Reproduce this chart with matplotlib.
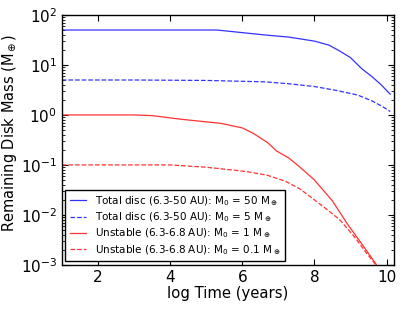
import matplotlib
matplotlib.use("Agg")
import matplotlib.pyplot as plt
import numpy as np

plt.rcParams["mathtext.default"] = "regular"
plt.rcParams["axes.unicode_minus"] = False

# Total disc, M0 = 50
t_tot50 = [1.0, 2.0, 4.0, 5.3, 6.6, 7.3, 8.0, 8.4, 8.7, 9.0, 9.32, 9.6, 9.85, 10.1]
m_tot50 = [50, 50, 50, 50, 40, 36, 30, 25, 19, 14, 8.3, 5.8, 4.0, 2.6]

# Total disc, M0 = 5
t_tot5 = [1.0, 3.0, 5.0, 6.6, 7.3, 8.0, 8.6, 9.2, 9.6, 9.9, 10.1]
m_tot5 = [5.0, 5.0, 4.9, 4.6, 4.2, 3.7, 3.1, 2.5, 1.9, 1.45, 1.17]

# Unstable, M0 = 1
t_un1 = [1.0, 2.0, 3.0, 3.5, 4.3, 5.4, 6.0, 6.3, 6.7, 6.95, 7.3, 7.6, 8.0, 8.5, 8.9, 9.3, 9.69, 9.8]
m_un1 = [1.0, 1.0, 1.0, 0.97, 0.82, 0.68, 0.55, 0.43, 0.28, 0.19, 0.136, 0.09, 0.05, 0.019, 0.0068, 0.0027, 0.00108, 0.0008]

# Unstable, M0 = 0.1
t_un01 = [1.0, 2.0, 4.0, 5.0, 6.1, 6.7, 7.2, 7.6, 8.0, 8.4, 8.7, 9.1, 9.45, 9.75]
m_un01 = [0.1, 0.1, 0.1, 0.09, 0.074, 0.062, 0.047, 0.033, 0.02, 0.012, 0.008, 0.0037, 0.0017, 0.0009]

fig = plt.figure(figsize=(4.15, 3.12), dpi=100)
ax = fig.add_axes([0.149, 0.151, 0.8, 0.801])

ax.plot(t_tot50, m_tot50, "-", color="#3333ff", lw=0.9,
        label="Total disc (6.3-50 AU): M$_0$ = 50 M$_\\oplus$")
ax.plot(t_tot5, m_tot5, "--", color="#3333ff", lw=0.9,
        label="Total disc (6.3-50 AU): M$_0$ = 5 M$_\\oplus$")
ax.plot(t_un1, m_un1, "-", color="#ff3333", lw=0.9,
        label="Unstable (6.3-6.8 AU): M$_0$ = 1 M$_\\oplus$")
ax.plot(t_un01, m_un01, "--", color="#ff3333", lw=0.9,
        label="Unstable (6.3-6.8 AU): M$_0$ = 0.1 M$_\\oplus$")

ax.set_yscale("log")
ax.set_xlim(1, 10.2)
ax.set_ylim(1e-3, 1e2)
ax.set_xticks([2, 4, 6, 8, 10])
ax.tick_params(which="both", direction="in", top=True, right=True, labelsize=11)
ax.tick_params(which="major", length=4)
ax.tick_params(which="minor", length=2)
for s in ax.spines.values():
    s.set_linewidth(1.0)

ax.set_xlabel("log Time (years)", fontsize=10.7, labelpad=1)
ax.set_ylabel("Remaining Disk Mass (M$_\\oplus$)", fontsize=10.5)
ax.yaxis.set_label_coords(-0.128, 0.53)

leg = ax.legend(loc="lower left", fontsize=7.5, fancybox=False, framealpha=1,
                edgecolor="black", borderaxespad=0.35, handlelength=1.5,
                labelspacing=0.25, borderpad=0.45, handletextpad=0.9)
leg.get_frame().set_linewidth(1.0)

fig.savefig("out.png", dpi=100)
